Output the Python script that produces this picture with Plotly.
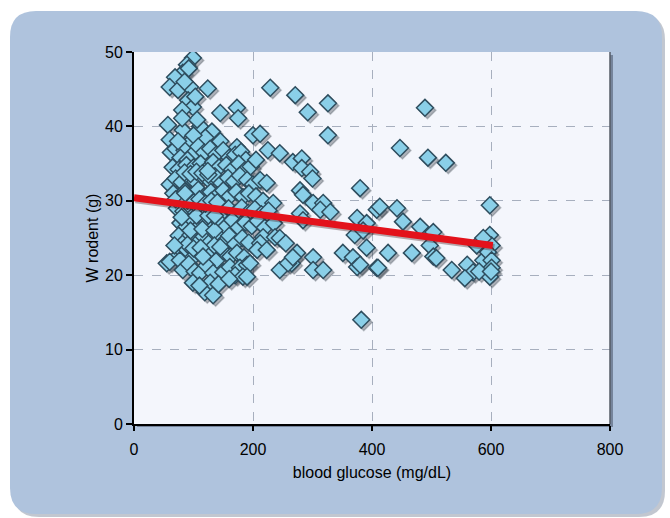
import plotly.graph_objects as go

# ---- data ----
glucose = [
    # upper dense cluster
    99, 89, 82, 92, 69, 60, 74, 94, 124, 91, 99, 81, 145, 173, 175, 85, 103,
    57, 60, 82, 94, 111, 131, 106, 81, 173, 200, 120, 145, 100,
    62, 70, 85, 98, 108, 118, 128, 138, 150, 160, 170, 180, 188, 78, 90,
    65, 75, 88, 100, 112, 122, 133, 143, 155, 165, 176, 185, 196, 205,
    60, 70, 80, 92, 103, 114, 126, 136, 147, 158, 168, 178, 190, 200, 212, 223,
    66, 76, 86, 97, 108, 118, 129, 140, 150, 161, 172, 183, 193, 205, 217, 234,
    72, 83, 94, 104, 115, 126, 137, 148, 159, 170, 181, 192, 203, 214, 226, 70,
    78, 88, 98, 110, 120, 132, 143, 154, 165, 176, 187, 198, 208, 220, 235,
    75, 85, 95, 106, 117, 127, 138, 149, 160, 170, 182, 193, 217, 237, 212,
    72, 80, 89, 98, 108, 118, 128, 139, 150, 162, 173, 185, 207, 223,
    55, 60, 77, 82, 92, 102, 111, 122, 133, 150, 161, 178, 190, 195, 170,
    99, 128, 119, 133, 183, 190, 110, 142, 160,
    # extra points filling the dense core
    80, 95, 105, 115, 125, 135, 90, 100, 110, 120, 130, 140, 85, 95, 105, 115,
    125, 135, 145, 90, 100, 112, 124, 136, 68, 74, 86, 116,
    # diagonal band / mid range
    279, 284, 301, 318, 313, 279, 284, 225, 245, 267, 282, 282, 296, 212,
    229, 271, 292, 326, 326, 300,
    245, 265, 274, 301, 301, 318, 259, 267, 245, 255,
    # 300-400
    380, 351, 368, 375, 391, 380, 408, 375, 391, 371, 408, 385, 382, 330,
    # 400-600
    413, 442, 452, 481, 503, 497, 503, 427, 467, 410, 534, 560, 570, 556,
    587, 598, 598, 601, 595, 601, 601, 598, 576, 587, 489, 447, 494, 524,
    508, 580, 600,
]
weight = [
    49.2, 48.3, 47.2, 47.8, 46.6, 45.3, 44.9, 45.3, 45.1, 43.5, 42.6, 42.2, 41.8, 42.5, 41.1, 46.0, 44.0,
    40.2, 38.2, 39.5, 37.8, 40.0, 39.3, 40.9, 41.1, 37.2, 38.8, 38.5, 38.0, 38.8,
    36.5, 37.0, 36.8, 36.2, 37.3, 36.5, 37.0, 36.2, 36.8, 35.8, 36.2, 36.6, 35.5, 35.8, 35.5,
    34.5, 34.2, 34.8, 34.5, 35.0, 34.2, 35.2, 34.5, 34.8, 34.2, 35.0, 34.0, 34.6, 35.5,
    32.2, 33.0, 32.5, 33.2, 32.6, 33.4, 32.8, 33.3, 32.4, 33.1, 32.6, 33.4, 32.8, 32.2, 32.8, 32.4,
    31.0, 30.5, 31.3, 30.8, 31.5, 30.6, 31.2, 30.7, 31.4, 30.6, 31.2, 30.5, 31.0, 30.6, 30.0, 29.7,
    29.0, 28.6, 29.3, 28.4, 29.1, 28.5, 29.3, 28.4, 29.0, 28.3, 29.1, 28.4, 28.9, 28.2, 28.7, 30.2,
    27.0, 26.5, 27.5, 26.6, 27.3, 26.4, 27.2, 26.5, 27.4, 26.4, 27.1, 26.6, 27.3, 26.4, 27.0,
    25.3, 24.5, 25.4, 24.3, 25.2, 24.4, 25.5, 24.3, 25.3, 24.2, 25.0, 24.4, 25.1, 25.1, 24.3,
    22.4, 23.3, 23.4, 22.3, 23.1, 22.6, 23.4, 22.0, 23.2, 22.5, 23.0, 22.4, 23.4, 23.4,
    21.6, 21.8, 22.0, 20.7, 21.5, 20.5, 20.3, 21.3, 20.3, 20.4, 21.1, 21.0, 21.4, 21.6, 20.0,
    19.0, 19.0, 17.7, 17.3, 19.8, 19.8, 18.6, 18.8, 19.5,
    # extra points filling the dense core
    27.8, 26.0, 28.0, 26.2, 28.0, 26.0, 30.0, 29.8, 30.2, 29.6, 30.0, 29.8, 33.8, 33.6, 33.9, 33.7,
    33.5, 24.0, 23.8, 24.1, 23.6, 23.7, 34.0, 28.0, 24.0, 38.0, 31.0, 22.5,
    # diagonal band / mid range
    31.4, 30.8, 29.7, 29.7, 28.8, 28.3, 27.4, 36.8, 36.4, 35.2, 35.7, 34.4, 33.9, 39.0,
    45.2, 44.2, 41.9, 43.1, 38.8, 33.0,
    20.7, 21.6, 23.0, 22.4, 20.7, 20.7, 21.6, 22.4, 25.0, 24.3,
    # 300-400
    31.7, 23.0, 22.4, 21.1, 23.7, 21.4, 21.0, 27.7, 27.0, 25.4, 28.8, 26.0, 14.0, 28.5,
    # 400-600
    29.2, 29.0, 27.2, 26.5, 25.8, 24.0, 22.5, 23.0, 23.0, 21.0, 20.7, 21.4, 20.4, 19.6,
    22.0, 29.4, 25.4, 24.0, 23.1, 22.0, 21.0, 19.8, 24.0, 25.0, 42.5, 37.1, 35.8, 35.1,
    22.3, 20.5, 20.5,
]
trend_x = [0, 603]
trend_y = [30.4, 24.0]

x_ticks = [0, 200, 400, 600, 800]
y_ticks = [0, 10, 20, 30, 40, 50]
x_title = "blood glucose (mg/dL)"
y_title = "W rodent (g)"

# ---- geometry (pixels) ----
W, H = 670, 518
L, R, T, B = 134, 60, 52, 94
pw, ph = W - L - R, H - T - B


def px_to_paper(px, py):
    return (px - L) / pw, (H - B - py) / ph


def rounded_rect(x0, y0, x1, y1, r):
    def P(x, y):
        a, b = px_to_paper(x, y)
        return f"{a:.5f},{b:.5f}"
    d = f"M {P(x0 + r, y0)} L {P(x1 - r, y0)} Q {P(x1, y0)} {P(x1, y0 + r)} "
    d += f"L {P(x1, y1 - r)} Q {P(x1, y1)} {P(x1 - r, y1)} "
    d += f"L {P(x0 + r, y1)} Q {P(x0, y1)} {P(x0, y1 - r)} "
    d += f"L {P(x0, y0 + r)} Q {P(x0, y0)} {P(x0 + r, y0)} Z"
    return d


# pixel offsets converted to data units for shadows
ux = 800 / pw
uy = 50 / ph
sh_dx, sh_dy = 2.5 * ux, -2.5 * uy

fig = go.Figure()

# marker shadows
fig.add_trace(go.Scatter(
    x=[v + sh_dx for v in glucose], y=[v + sh_dy for v in weight],
    mode="markers", hoverinfo="skip", showlegend=False,
    marker=dict(symbol="diamond", size=13, color="rgba(40,50,60,0.35)",
                line=dict(width=1.5, color="rgba(40,50,60,0.25)")),
))
# markers
fig.add_trace(go.Scatter(
    x=glucose, y=weight, mode="markers", showlegend=False,
    marker=dict(symbol="diamond", size=13, color="#8ACFE8",
                line=dict(width=1.5, color="#2E4D5E")),
))
# trend shadow
fig.add_trace(go.Scatter(
    x=[v + sh_dx * 0.6 for v in trend_x], y=[v + sh_dy * 0.8 for v in trend_y],
    mode="lines", hoverinfo="skip", showlegend=False,
    line=dict(color="rgba(60,20,20,0.35)", width=7),
))
# trend
fig.add_trace(go.Scatter(
    x=trend_x, y=trend_y, mode="lines", showlegend=False,
    line=dict(color="#E3121B", width=7),
))

shapes = [
    # panel shadow
    dict(type="path", xref="paper", yref="paper", layer="below",
         path=rounded_rect(13, 14, 665, 517, 26),
         fillcolor="rgba(120,130,150,0.45)", line=dict(width=0)),
    # panel
    dict(type="path", xref="paper", yref="paper", layer="below",
         path=rounded_rect(10, 11, 662, 514, 26),
         fillcolor="#AFC3DD", line=dict(width=0)),
    # plot area shadow
    dict(type="rect", xref="paper", yref="paper", layer="below",
         x0=px_to_paper(L + 3, 0)[0], x1=px_to_paper(L + pw + 3, 0)[0],
         y0=px_to_paper(0, H - B + 3)[1], y1=px_to_paper(0, T + 3)[1],
         fillcolor="rgba(70,80,100,0.55)", line=dict(width=0)),
    # plot area
    dict(type="rect", xref="paper", yref="paper", layer="below",
         x0=0, x1=1, y0=0, y1=1,
         fillcolor="#F4F6FC", line=dict(width=0)),
    # right border
    dict(type="line", xref="paper", yref="paper", x0=1, x1=1, y0=0, y1=1,
         line=dict(color="#555B66", width=1.5)),
]

fig.update_layout(
    width=W, height=H,
    margin=dict(l=L, r=R, t=T, b=B),
    paper_bgcolor="#FFFFFF",
    plot_bgcolor="rgba(0,0,0,0)",
    shapes=shapes,
    font=dict(family="Liberation Sans, Arial, sans-serif", size=16, color="#000000"),
    showlegend=False,
)
fig.update_xaxes(
    range=[0, 800], tickvals=x_ticks, ticktext=[str(v) for v in x_ticks],
    showline=True, linecolor="#000000", linewidth=2,
    ticks="outside", ticklen=5, tickcolor="#000000", tickwidth=1.5,
    ticklabelstandoff=5,
    showgrid=True, gridcolor="#A7AFBE", griddash="dash", gridwidth=1,
    zeroline=False, tickfont=dict(size=16),
    title=dict(text=x_title, font=dict(size=16), standoff=10),
)
fig.update_yaxes(
    range=[0, 50], tickvals=y_ticks, ticktext=[str(v) for v in y_ticks],
    showline=True, linecolor="#000000", linewidth=2,
    ticks="outside", ticklen=6, tickcolor="#000000", tickwidth=1.5,
    showgrid=True, gridcolor="#A7AFBE", griddash="dash", gridwidth=1,
    zeroline=False, tickfont=dict(size=16),
    title=dict(text=y_title, font=dict(size=16), standoff=2),
)

fig.write_html("out.html")
